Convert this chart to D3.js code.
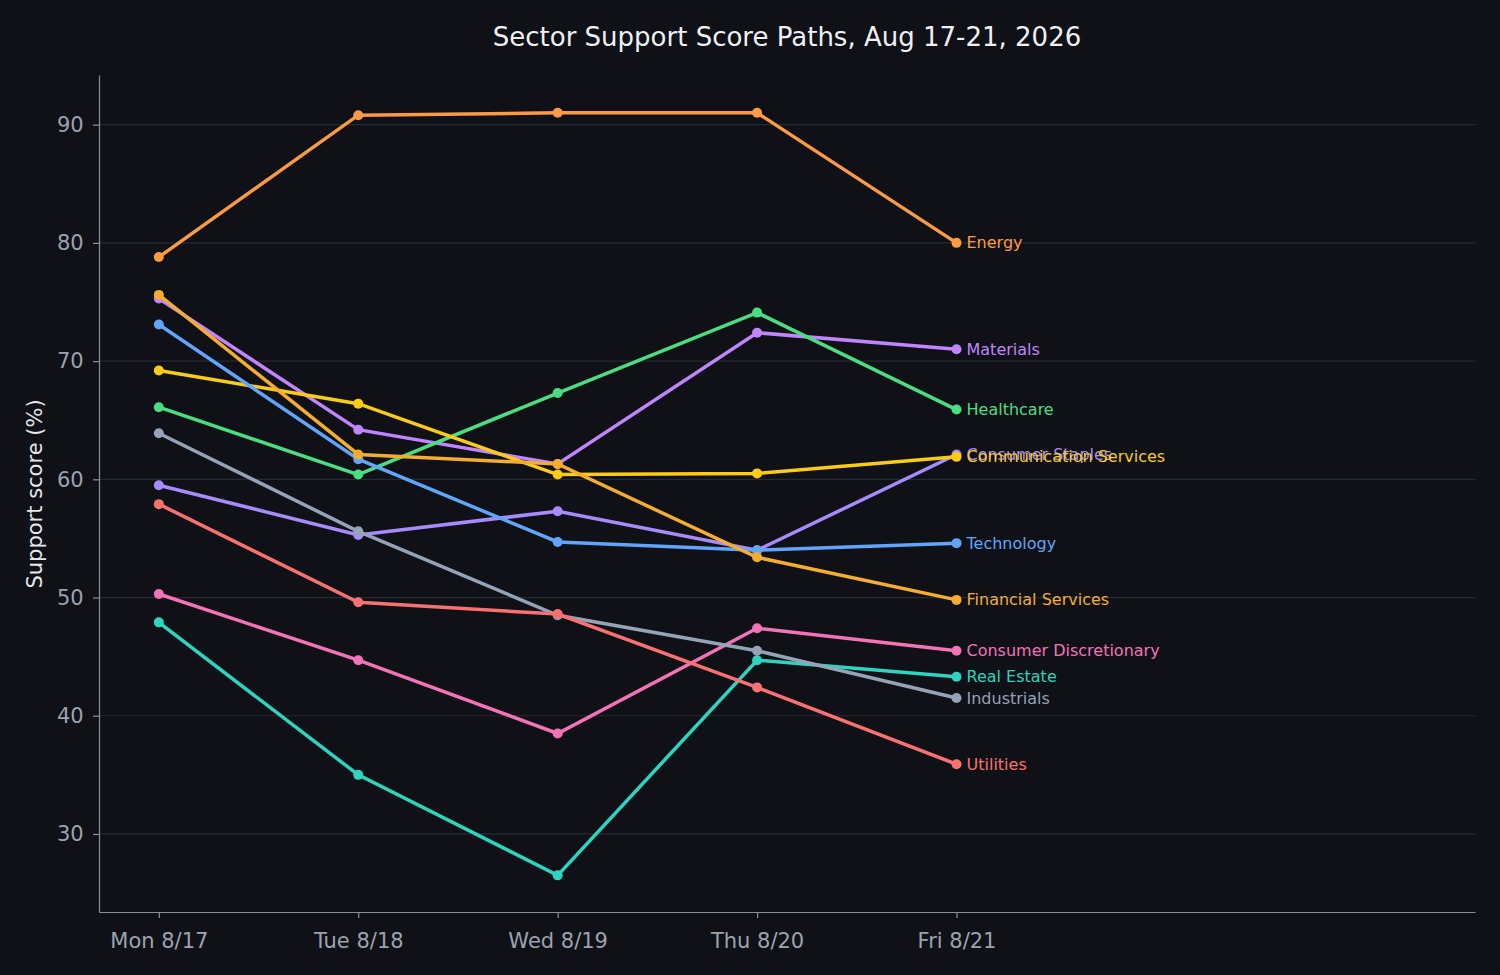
<!DOCTYPE html>
<html><head><meta charset="utf-8">
<script src="https://cdn.jsdelivr.net/npm/d3@7"></script>
<style>body{margin:0;background:#0f1117;}</style>
</head><body><svg id="c" width="1500" height="975"></svg>
<script>
const days = ["Mon 8/17","Tue 8/18","Wed 8/19","Thu 8/20","Fri 8/21"];
const yTicks = [30,40,50,60,70,80,90];
const names = ["Energy","Materials","Healthcare","Consumer Staples","Communication Services","Technology","Financial Services","Consumer Discretionary","Real Estate","Industrials","Utilities"];
const colors = ["#fb9a45","#c084fc","#4ade80","#a78bfa","#facc15","#60a5fa","#f5ad2e","#f472b6","#2dd4bf","#94a3b8","#f87171"];
const energy = [78.8,90.8,91.0,91.0,80.0];
const materials = [75.3,64.2,61.3,72.4,71.0];
const healthcare = [66.1,60.4,67.3,74.1,65.9];
const staples = [59.5,55.3,57.3,54.0,62.1];
const communication = [69.2,66.4,60.4,60.5,61.9];
const technology = [73.1,61.7,54.7,54.0,54.6];
const financial = [75.6,62.1,61.3,53.4,49.8];
const discretionary = [50.3,44.7,38.5,47.4,45.5];
const realEstate = [47.9,35.0,26.5,44.7,43.3];
const industrials = [63.9,55.6,48.5,45.5,41.5];
const utilities = [57.9,49.6,48.6,42.4,35.9];
const series = [energy,materials,healthcare,staples,communication,technology,financial,discretionary,realEstate,industrials,utilities];

const svg = d3.select("#c");
const font = "DejaVu Sans, sans-serif";
const x = d3.scaleLinear().domain([-0.3,6.6]).range([99,1475]);
const y = d3.scaleLinear().domain([23.4,94.2]).range([912,75]);

svg.append("g").selectAll("line").data(yTicks).join("line")
  .attr("x1",99).attr("x2",1475).attr("y1",d=>y(d)).attr("y2",d=>y(d))
  .attr("stroke","#262a33").attr("stroke-width",1.2);

const xa = svg.append("g").attr("transform","translate(0,912)")
  .call(d3.axisBottom(x).tickValues([0,1,2,3,4]).tickFormat(i=>days[i]).tickSize(6).tickSizeOuter(0));
const ya = svg.append("g").attr("transform","translate(99,0)")
  .call(d3.axisLeft(y).tickValues(yTicks).tickSize(6).tickSizeOuter(0));
[xa,ya].forEach(a=>{
  a.selectAll("path,line").attr("stroke","#8b8f98").attr("stroke-width",1.2);
  a.selectAll("text").attr("fill","#9ca3af").attr("font-size",21).attr("font-family",font);
});
xa.selectAll("text").attr("dy","1.3em");
ya.selectAll("text").attr("dx","-0.3em");

svg.append("text").attr("x",787).attr("y",46).attr("text-anchor","middle")
  .attr("fill","#eef0f3").attr("font-size",26).attr("font-family",font)
  .text("Sector Support Score Paths, Aug 17-21, 2026");
svg.append("text").attr("transform","translate(42,494) rotate(-90)").attr("text-anchor","middle")
  .attr("fill","#e5e7eb").attr("font-size",21).attr("font-family",font).text("Support score (%)");

const line = d3.line().x((d,i)=>x(i)).y(d=>y(d));
series.forEach((s,k)=>{
  const g = svg.append("g");
  g.append("path").attr("d",line(s)).attr("fill","none").attr("stroke",colors[k]).attr("stroke-width",3.5);
  g.selectAll("circle").data(s).join("circle").attr("cx",(d,i)=>x(i)).attr("cy",d=>y(d)).attr("r",5).attr("fill",colors[k]);
  g.append("text").attr("x",x(4)+10).attr("y",y(s[4])).attr("dy","0.35em")
    .attr("fill",colors[k]).attr("font-size",16).attr("font-family",font).text(names[k]);
});
</script></body></html>
